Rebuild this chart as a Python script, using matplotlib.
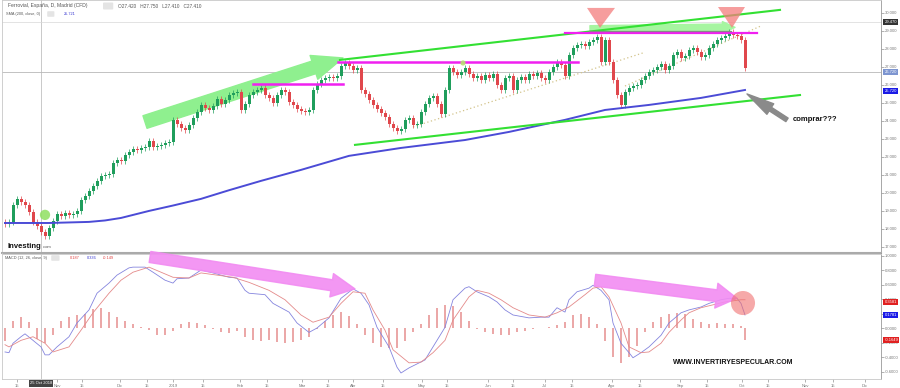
import numpy as np
import matplotlib.pyplot as plt

plt.rcParams['font.family'] = ['Liberation Sans', 'DejaVu Sans']

# Ferrovial diario: cierres (apertura = cierre anterior)
first_open = 18.40
closes = [18.28, 18.39, 19.33, 19.67, 19.50, 19.33, 18.94, 18.39, 18.17, 17.83,
          17.61, 18.06, 18.44, 18.83, 18.72, 18.89, 18.78, 18.83, 19.00, 19.61,
          19.83, 20.11, 20.39, 20.67, 20.94, 21.00, 21.06, 21.67, 21.83, 21.78,
          22.11, 22.28, 22.44, 22.39, 22.50, 22.56, 22.89, 22.56, 22.61, 22.67,
          22.78, 22.83, 24.06, 23.83, 23.61, 23.50, 23.78, 24.17, 24.50, 24.89,
          24.72, 24.61, 24.83, 25.22, 24.94, 25.17, 25.44, 25.56, 25.61, 24.61,
          24.94, 25.44, 25.61, 25.72, 25.83, 25.44, 25.28, 25.00, 25.44, 25.72,
          25.61, 25.06, 24.89, 24.67, 24.56, 24.50, 24.61, 25.72, 26.06, 26.28,
          26.39, 26.44, 26.39, 26.50, 27.06, 27.22, 27.06, 26.83, 26.94, 25.72,
          25.50, 25.17, 24.89, 24.67, 24.44, 24.22, 23.83, 23.61, 23.44, 23.56,
          24.06, 24.17, 23.78, 23.83, 24.50, 24.94, 25.28, 25.39, 24.94, 24.39,
          25.72, 26.94, 26.72, 26.56, 26.72, 26.94, 26.61, 26.39, 26.50, 26.28,
          26.56, 26.39, 26.61, 26.00, 25.72, 26.39, 26.50, 25.72, 26.28, 26.44,
          26.28, 26.61, 26.50, 26.67, 26.39, 26.28, 26.72, 27.00, 27.28, 27.11,
          26.50, 27.67, 28.06, 28.22, 28.28, 28.17, 28.39, 28.50, 28.67, 27.28,
          28.50, 27.28, 26.28, 25.44, 24.89, 25.61, 25.83, 25.94, 26.00, 26.28,
          26.50, 26.72, 26.83, 27.00, 27.17, 26.83, 27.06, 27.67, 27.83, 27.50,
          27.61, 27.94, 28.06, 27.83, 27.56, 27.67, 28.06, 28.28, 28.50, 28.61,
          28.72, 28.94, 28.78, 28.72, 28.50, 26.94]

# SMA 200
sma_idx = [0, 11, 21, 25, 29, 36, 42, 49, 56, 64, 74, 86, 99, 115, 126, 140, 150, 161, 174, 185]
sma_val = [18.33, 18.33, 18.39, 18.47, 18.61, 19.00, 19.30, 19.67, 20.15, 20.67, 21.28,
           22.06, 22.50, 22.94, 23.39, 24.06, 24.61, 24.89, 25.28, 25.72]

# MACD (12, 26, 9)
macd_idx = [0, 1, 2, 4, 5, 7, 9, 10, 11, 13, 16, 18, 21, 23, 26, 28, 31, 32, 35, 37,
            40, 42, 43, 46, 49, 52, 56, 58, 60, 61, 65, 67, 71, 73, 76, 78, 81, 84, 87, 89,
            91, 93, 96, 98, 99, 101, 105, 107, 110, 112, 115, 116, 118, 121, 123, 125, 127, 131, 134, 136,
            138, 140, 141, 143, 146, 147, 149, 151, 152, 154, 156, 157, 159, 161, 164, 166, 169, 171, 174, 176,
            179, 181, 183, 184, 185]
macd_val = [-0.33, -0.34, -0.21, -0.12, -0.08, -0.17, -0.26, -0.37, -0.37, -0.26,
            -0.12, 0.07, 0.25, 0.48, 0.62, 0.73, 0.83, 0.84, 0.84, 0.77,
            0.66, 0.62, 0.68, 0.69, 0.80, 0.76, 0.70, 0.69, 0.52, 0.48,
            0.46, 0.34, 0.22, 0.07, -0.06, 0.00, 0.14, 0.41, 0.54, 0.48,
            0.32, 0.01, -0.26, -0.54, -0.62, -0.55, -0.44, -0.26, 0.01, 0.39,
            0.55, 0.57, 0.50, 0.43, 0.36, 0.25, 0.18, 0.14, 0.15, 0.15,
            0.28, 0.22, 0.39, 0.50, 0.55, 0.59, 0.52, 0.39, 0.07, -0.21,
            -0.34, -0.41, -0.34, -0.26, -0.10, 0.07, 0.21, 0.25, 0.29, 0.34,
            0.39, 0.41, 0.41, 0.34, 0.18]
sig_idx = [0, 1, 4, 7, 10, 12, 16, 19, 22, 26, 29, 32, 36, 39, 42, 46, 49, 53, 57, 61,
           66, 70, 74, 77, 81, 84, 87, 90, 92, 95, 97, 101, 104, 107, 110, 112, 116, 118, 121, 124,
           127, 131, 135, 138, 141, 145, 147, 149, 151, 154, 156, 159, 161, 164, 166, 169, 171, 174, 177, 180,
           184, 185]
sig_val = [-0.23, -0.26, -0.17, -0.12, -0.21, -0.33, -0.26, -0.03, 0.21, 0.48,
           0.66, 0.77, 0.84, 0.77, 0.70, 0.69, 0.76, 0.73, 0.70, 0.63,
           0.52, 0.39, 0.18, 0.08, 0.15, 0.34, 0.50, 0.48, 0.25, -0.03,
           -0.30, -0.48, -0.47, -0.34, -0.17, 0.11, 0.43, 0.52, 0.48, 0.39,
           0.28, 0.18, 0.15, 0.21, 0.29, 0.46, 0.55, 0.57, 0.43, 0.07,
           -0.26, -0.34, -0.33, -0.21, -0.06, 0.11, 0.21, 0.28, 0.32, 0.36,
           0.39, 0.39]
hist_idx = list(range(0, 186, 2)) + [185]
hist_val = [-0.18, 0.10, 0.15, 0.08, -0.15, -0.20, -0.10, 0.10, 0.15, 0.18,
            0.20, 0.26, 0.27, 0.22, 0.15, 0.10, 0.05, 0.02, -0.03, -0.09,
            -0.10, -0.04, 0.05, 0.08, 0.07, 0.04, -0.02, -0.05, -0.07, -0.04,
            -0.12, -0.16, -0.18, -0.17, -0.19, -0.20, -0.19, -0.16, -0.12, -0.02,
            0.10, 0.18, 0.22, 0.17, 0.05, -0.10, -0.20, -0.26, -0.28, -0.27,
            -0.18, -0.05, 0.05, 0.18, 0.28, 0.32, 0.30, 0.22, 0.10, -0.02,
            -0.06, -0.08, -0.10, -0.09, -0.06, -0.04, -0.02, 0.00, 0.01, 0.04,
            0.08, 0.18, 0.20, 0.15, 0.05, -0.18, -0.40, -0.48, -0.40, -0.25,
            -0.05, 0.08, 0.15, 0.20, 0.21, 0.19, 0.12, 0.08, 0.06, 0.07,
            0.06, 0.05, 0.03, -0.17]

price_ticks = list(range(17, 31))
macd_ticks = [1.0, 0.8, 0.6, 0.4, 0.2, 0.0, -0.2, -0.4, -0.6]
date_pos = [3, 13, 19.25, 28.75, 35.5, 42, 49.5, 58.75, 65.5, 74.25, 80.75, 87, 94.5, 104.25,
            110.5, 120.75, 127, 135, 141.75, 151.75, 158.75, 168.75, 175.5, 184.25, 190.75,
            200, 207, 215]
date_lbl = ['15', 'Nov', '15', 'Dic', '15', '2019', '15', 'Feb', '15', 'Mar', '15', 'Abr',
            '15', 'May', '15', 'Jun', '15', 'Jul', '15', 'Ago', '15', 'Sep', '15', 'Oct',
            '15', 'Nov', '15', 'Dic']

closes = np.array(closes)
opens = np.concatenate([[first_open], closes[:-1]])
idx = np.arange(len(closes))
up = closes >= opens
col = np.where(up, '#1f9e5c', '#e0474c')

fig = plt.figure(figsize=(9, 3.88), dpi=100)
W, H = 900, 388
ax1 = fig.add_axes([2/W, 1 - 252.5/H, 879/W, 252.5/H])
ax2 = fig.add_axes([2/W, 9/H, 879/W, 125.5/H])

for ax in (ax1, ax2):
    ax.set_xlim(-0.75, 219)
    ax.yaxis.tick_right()
    ax.tick_params(axis='y', labelsize=3, colors='#777', length=2, width=0.4, pad=1)
    for s in ax.spines.values():
        s.set_color('#c8c8c8')
        s.set_linewidth(0.6)
    ax.spines['right'].set_color('#999')
    ax.axvline(9, color='#c0c0c0', lw=0.6, zorder=0)

ax1.set_ylim(16.69, 30.72)
ax2.set_ylim(-0.703, 1.028)
ax1.spines['bottom'].set_color('#aaa')
ax1.spines['bottom'].set_linewidth(1.5)
ax1.set_xticks([])
ax1.set_yticks(price_ticks)
ax1.set_yticklabels([f'{v:.3f}' for v in price_ticks])
ax2.set_yticks(macd_ticks)
ax2.set_yticklabels([f'{v:.4f}' for v in macd_ticks])
ax2.set_xticks(date_pos)
ax2.set_xticklabels(date_lbl)
ax2.tick_params(axis='x', labelsize=3, colors='#777', length=2, width=0.4, pad=1.5)

# lineas horizontales de referencia
ax1.axhline(29.5, color='#d8d8d8', lw=0.5, zorder=0)
ax1.axhline(26.72, color='#b8b8b8', lw=0.6, zorder=0)

# flecha verde grande
ax1.annotate('', xy=(84.5, 27.5), xytext=(35, 23.94),
             arrowprops=dict(arrowstyle='simple,head_length=2.2,head_width=1.8,tail_width=0.95',
                             mutation_scale=10, color='#8ff08f', shrinkA=0, shrinkB=0), zorder=1)
ax1.annotate('', xy=(182.5, 29.2), xytext=(146.25, 29.1),
             arrowprops=dict(arrowstyle='simple,head_length=0.9,head_width=0.85,tail_width=0.5',
                             mutation_scale=10, color='#a6f5a0', shrinkA=0, shrinkB=0), zorder=1)

# velas
ax1.vlines(idx, np.minimum(opens, closes) - 0.15, np.maximum(opens, closes) + 0.15,
           color=col, lw=0.5, zorder=3)
ax1.bar(idx, np.maximum(np.abs(closes - opens), 0.04), bottom=np.minimum(opens, closes),
        width=0.75, color=col, zorder=3, linewidth=0)

ax1.plot(sma_idx, sma_val, color='#4b4bd6', lw=1.4, zorder=4)

# canal y resistencias
ax1.plot([83.75, 193.75], [27.39, 30.17], color='#33e033', lw=1.5, zorder=5)
ax1.plot([87.5, 198.75], [22.67, 25.44], color='#33e033', lw=1.5, zorder=5)
ax1.plot([62, 84.5], [26.06, 26.06], color='#f020f0', lw=1.8, zorder=5)
ax1.plot([83.25, 143.25], [27.28, 27.28], color='#f020f0', lw=1.8, zorder=5)
ax1.plot([140, 188], [28.89, 28.89], color='#f020f0', lw=1.6, zorder=5)
ax1.plot([146, 181.5], [28.97, 28.97], color='#888888', lw=0.9, zorder=5)
ax1.plot([102, 159.5], [23.67, 27.78], color='#d2c38a', lw=0.9, ls=(0, (1, 2)), zorder=2)
ax1.plot([155, 189], [25.94, 29.28], color='#d2c38a', lw=0.9, ls=(0, (1, 2)), zorder=2)

# triangulos de techo
ax1.fill([145.5, 152.5, 148.75], [30.28, 30.28, 29.17], color='#f47c7c', alpha=0.75, lw=0, zorder=6)
ax1.fill([178.25, 185, 181.75], [30.33, 30.33, 29.17], color='#f47c7c', alpha=0.75, lw=0, zorder=6)

ax1.scatter([10], [18.78], s=55, color='#8fe060', alpha=0.85, edgecolors='none', zorder=6)
ax1.scatter([114.5], [27.22], s=14, color='#b8e070', alpha=0.9, edgecolors='none', zorder=6)

ax1.annotate('', xy=(185.5, 25.5), xytext=(195.5, 24.06),
             arrowprops=dict(arrowstyle='simple,head_length=2.0,head_width=0.9,tail_width=0.3',
                             mutation_scale=10, color='#8a8a8a', shrinkA=0, shrinkB=0), zorder=6)
ax1.text(197, 24.06, 'comprar???', fontsize=5.5, fontweight='bold', color='#111', va='center')

# etiquetas del eje de precios
yt1 = ax1.get_yaxis_transform()
for v, txt, fc in [(29.5, '29.470', '#333333'), (26.72, '26.720', '#7d95d0'), (25.67, '25.720', '#1a1ae6')]:
    ax1.text(1.004, v, txt, transform=yt1, fontsize=3, color='white', va='center', ha='left',
             bbox=dict(boxstyle='square,pad=0.25', fc=fc, ec='none'), zorder=10)

# MACD
ax2.bar(hist_idx, hist_val, width=0.28, color='#eba8a8', linewidth=0, zorder=1)
ax2.plot(macd_idx, macd_val, color='#8585de', lw=0.6, zorder=3)
ax2.plot(sig_idx, sig_val, color='#e48a8a', lw=0.6, zorder=3)
ax2.annotate('', xy=(87.5, 0.54), xytext=(36.25, 0.98),
             arrowprops=dict(arrowstyle='simple,head_length=1.7,head_width=1.7,tail_width=0.8',
                             mutation_scale=10, color='#f28cf2', alpha=0.9, shrinkA=0, shrinkB=0), zorder=4)
ax2.annotate('', xy=(183, 0.41), xytext=(147.5, 0.66),
             arrowprops=dict(arrowstyle='simple,head_length=1.5,head_width=1.8,tail_width=0.85',
                             mutation_scale=10, color='#f28cf2', alpha=0.9, shrinkA=0, shrinkB=0), zorder=4)
ax2.scatter([184.5], [0.345], s=300, color='#f07070', alpha=0.6, edgecolors='none', zorder=5)
ax2.text(182, -0.47, 'WWW.INVERTIRYESPECULAR.COM', fontsize=5, fontweight='bold',
         color='#111', ha='center', va='center', zorder=6)

yt2 = ax2.get_yaxis_transform()
for v, txt, fc in [(0.36, '0.3581', '#e02020'), (0.18, '0.1781', '#1a1ae6'), (-0.17, '-0.1649', '#e02020')]:
    ax2.text(1.004, v, txt, transform=yt2, fontsize=3, color='white', va='center', ha='left',
             bbox=dict(boxstyle='square,pad=0.25', fc=fc, ec='none'), zorder=10)

ax2.text(9, -0.735, '25 Oct 2018', fontsize=3, color='white', ha='center', va='top',
         bbox=dict(boxstyle='square,pad=0.3', fc='#444', ec='none'), zorder=10)

# cabeceras
fig.text(8/W, 1 - 6/H, 'Ferrovial, España, D, Madrid (CFD)', fontsize=3.6, color='#555', va='center')
fig.text(104/W, 1 - 6/H, '      ', fontsize=3.6, va='center',
         bbox=dict(boxstyle='round,pad=0.2', fc='#e4e4e4', ec='none'))
fig.text(118/W, 1 - 6/H, 'O27.420   H27.750   L27.410   C27.410', fontsize=3.4, color='#555', va='center')
fig.text(6/W, 1 - 14/H, 'SMA (200, close, 0)', fontsize=2.8, color='#555', va='center')
fig.text(48/W, 1 - 14/H, '     ', fontsize=2.8, va='center',
         bbox=dict(boxstyle='round,pad=0.2', fc='#e4e4e4', ec='none'))
fig.text(64/W, 1 - 14/H, '25.721', fontsize=2.8, color='#3535d0', va='center')
fig.text(8/W, 1 - 246/H, 'Investing', fontsize=5.5, fontweight='bold', color='#111', va='center')
fig.text(43/W, 1 - 247/H, '.com', fontsize=3, color='#555', va='center')
fig.text(5/W, 1 - 258/H, 'MACD (12, 26, close, 9)', fontsize=2.8, color='#555', va='center')
fig.text(52/W, 1 - 258/H, '      ', fontsize=2.8, va='center',
         bbox=dict(boxstyle='round,pad=0.2', fc='#e4e4e4', ec='none'))
fig.text(70/W, 1 - 258/H, '0.187', fontsize=2.8, color='#e04040', va='center')
fig.text(87/W, 1 - 258/H, '0.336', fontsize=2.8, color='#3535d0', va='center')
fig.text(103/W, 1 - 258/H, '-0.149', fontsize=2.8, color='#e04040', va='center')

fig.savefig('out.png', dpi=100)
